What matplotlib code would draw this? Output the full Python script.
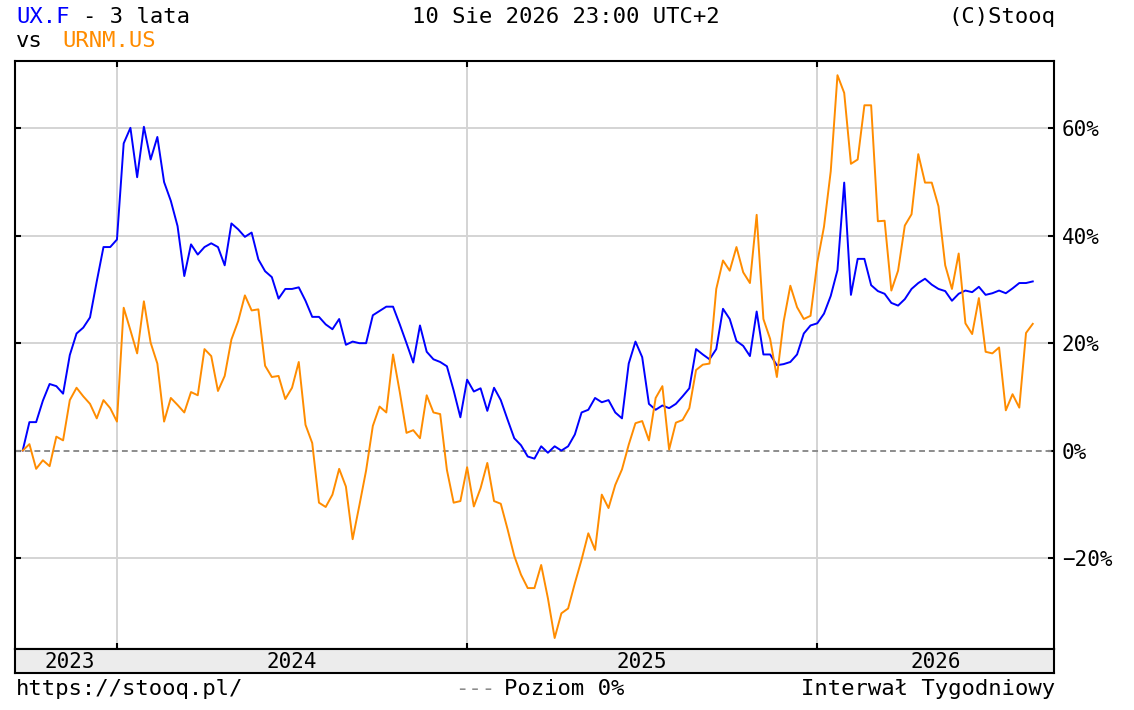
import numpy as np
import pandas as pd
import matplotlib
matplotlib.use("Agg")
import matplotlib.pyplot as plt
from matplotlib.ticker import FuncFormatter

# weekly change since start (%)
ux_f = [
    0, 5.3, 5.3, 9.3, 12.4, 12.0, 10.6, 17.8, 21.8, 22.9, 24.8, 31.5, 37.9, 37.9,
    39.3, 57.2, 60.1, 50.9, 60.3, 54.2, 58.4, 50.0, 46.5, 41.8, 32.5, 38.4, 36.5,
    37.9, 38.6, 37.9, 34.5, 42.3, 41.2, 39.8, 40.6, 35.6, 33.4, 32.3, 28.3, 30.1,
    30.1, 30.4,
    27.9, 24.9, 24.9, 23.5, 22.6, 24.5, 19.7, 20.3, 20.0, 20.0, 25.2, 26.0, 26.8,
    26.8, 23.5, 20.0, 16.4, 23.3, 18.4, 17.0, 16.5, 15.7, 11.2, 6.2, 13.2, 11.0,
    11.6, 7.4, 11.7,
    9.4, 5.8, 2.3, 1.0, -1.1, -1.5, 0.8, -0.4, 0.8, 0.0, 0.8, 3.0, 7.1, 7.6, 9.8,
    9.0, 9.4, 7.1, 6.0, 16.2, 20.3, 17.4, 8.7, 7.6, 8.4, 7.9, 8.7, 10.1, 11.6, 18.9,
    17.9, 17.0, 18.9, 26.4, 24.5, 20.4, 19.5, 17.6, 25.9, 17.9, 17.9, 15.9, 16.1,
    16.5, 17.9, 21.8, 23.3, 23.7, 25.5, 28.8, 33.6, 49.9, 29.0, 35.7, 35.7, 30.8,
    29.7,
    29.2, 27.5, 27.0, 28.2, 30.1, 31.2, 32.0, 30.9, 30.1, 29.7, 27.9, 29.2, 29.8,
    29.5, 30.5, 29.0, 29.3, 29.8, 29.3, 30.2, 31.2, 31.2, 31.5,
]
urnm_us = [
    0, 1.2, -3.4, -1.8, -2.9, 2.6, 1.9, 9.4, 11.7, 10.1, 8.7, 6.0, 9.4, 7.9, 5.4,
    26.6, 22.4, 18.1, 27.8, 20.1, 16.2, 5.4, 9.8, 8.5, 7.1, 10.9, 10.3, 18.9, 17.6,
    11.1, 13.9, 20.7, 24.1, 28.9, 26.1, 26.3, 15.8, 13.7, 13.9, 9.6, 11.7, 16.5,
    4.8, 1.4, -9.7, -10.5, -8.2, -3.4, -6.7, -16.5, -10.2, -3.7, 4.6, 8.2, 7.1,
    17.9, 10.9, 3.3, 3.8, 2.3, 10.3, 7.1, 6.8, -3.6, -9.7, -9.4, -3.1, -10.4, -7.0,
    -2.3, -9.4,
    -9.9, -14.6, -19.6, -23.1, -25.6, -25.6, -21.3, -27.5, -34.9, -30.3, -29.4,
    -24.7, -20.3, -15.4, -18.5, -8.2, -10.7, -6.4, -3.5, 1.1, 5.1, 5.5, 1.9, 9.8,
    12.0, 0.2, 5.2, 5.7, 7.9, 15.0,
    16.0, 16.2, 30.1, 35.4, 33.5, 37.9, 33.2, 31.2, 43.9, 24.5, 20.8, 13.7, 24.0,
    30.7, 26.7, 24.5, 25.1, 35.0, 41.7, 52.0, 69.9, 66.6, 53.4, 54.2, 64.3, 64.3,
    42.7,
    42.8, 29.8, 33.5, 41.9, 44.0, 55.2, 49.9, 49.9, 45.5, 34.5, 30.1, 36.7, 23.7,
    21.7, 28.4, 18.4, 18.1, 19.2, 7.5, 10.5, 8.0, 21.9, 23.6,
]
dates = pd.date_range(end="2026-08-10", periods=len(ux_f), freq="7D")
y_ticks = [-20, 0, 20, 40, 60]
years = [2023, 2024, 2025, 2026]

BLUE = "#0000ff"
ORANGE = "#ff8c00"
GRID = "#d4d4d4"
W, H = 1134, 710
CHAR = 16 * 100 / 72 * 0.602  # advance of one mono char at 16pt, px

plt.rcParams["font.family"] = ["DejaVu Sans Mono"]

fig = plt.figure(figsize=(W / 100, H / 100), dpi=100)
ax = fig.add_axes([15 / W, 1 - 649.3 / H, (1054.3 - 15) / W, (649.3 - 60.7) / H])
band = fig.add_axes([15 / W, 1 - 672.7 / H, (1054.3 - 15) / W, (672.7 - 649.3) / H])

x = np.arange(len(ux_f))

# year boundary = week that contains 1 Jan
bounds = []
for yr in years[1:]:
    jan1 = pd.Timestamp(f"{yr}-01-01")
    hit = np.where((dates <= jan1) & (dates + pd.Timedelta(days=7) > jan1))[0]
    bounds.append(int(hit[0]))

xlim = (-1.14, len(x) - 1 + 3.2)
ax.set_xlim(xlim)
ax.set_ylim(-37.0, 72.6)

for b in bounds:
    ax.axvline(b, color=GRID, lw=1.4, zorder=1)
for t in y_ticks:
    if t != 0:
        ax.axhline(t, color=GRID, lw=1.4, zorder=1)
ax.axhline(0, color="#8c8c8c", lw=1.4, ls=(0, (3, 2)), zorder=2)

ax.plot(x, ux_f, color=BLUE, lw=1.4, zorder=3)
ax.plot(x, urnm_us, color=ORANGE, lw=1.4, zorder=4)

ax.set_yticks(y_ticks)
ax.yaxis.set_major_formatter(FuncFormatter(lambda v, p: f"{v:.0f}%".replace("-", "\u2212")))
ax.tick_params(axis="y", left=True, right=True, labelleft=False, labelright=True,
               direction="in", length=4.5, width=1.5, pad=5.5, labelsize=15)
ax.set_xticks(bounds)
ax.tick_params(axis="x", top=True, bottom=True, labelbottom=False,
               direction="in", length=4.5, width=1.5)
for s in ax.spines.values():
    s.set_linewidth(1.5)

# year band under the plot
band.set_xlim(xlim)
band.set_ylim(0, 1)
band.set_facecolor("#ececec")
band.set_xticks([])
band.set_yticks([])
for s in band.spines.values():
    s.set_linewidth(1.5)
edges = [0] + bounds + [xlim[1]]
for yr, lo, hi in zip(years, edges[:-1], edges[1:]):
    band.text((lo + hi) / 2, 0.45, str(yr), ha="center", va="center", fontsize=15)

# header
fig.text(16 / W, 1 - 17 / H, "UX.F", ha="left", va="center", fontsize=16, color=BLUE)
fig.text((16 + 5 * CHAR) / W, 1 - 17 / H, "- 3 lata", ha="left", va="center", fontsize=16)
fig.text(16 / W, 1 - 41 / H, "vs", ha="left", va="center", fontsize=16)
fig.text(62 / W, 1 - 41 / H, "URNM.US", ha="left", va="center", fontsize=16, color=ORANGE)
fig.text(566 / W, 1 - 17 / H, "10 Sie 2026 23:00 UTC+2", ha="center", va="center", fontsize=16)
fig.text(1055 / W, 1 - 17 / H, "(C)Stooq", ha="right", va="center", fontsize=16)

# footer
fig.text(16 / W, 1 - 689 / H, "https://stooq.pl/", ha="left", va="center", fontsize=16)
fig.text(455 / W, 1 - 689 / H, "---", ha="left", va="center", fontsize=16, color="#8c8c8c")
fig.text(624 / W, 1 - 689 / H, "Poziom 0%", ha="right", va="center", fontsize=16)
fig.text(1055 / W, 1 - 689 / H, "Interwał Tygodniowy", ha="right", va="center", fontsize=16)

fig.savefig("out.png", dpi=100)
